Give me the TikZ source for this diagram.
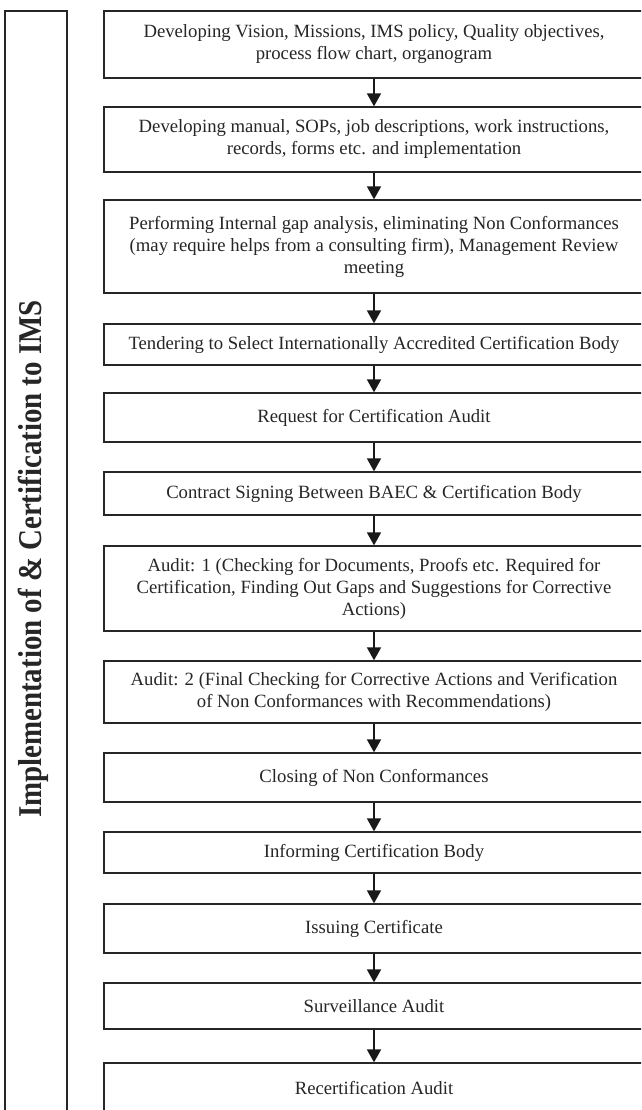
\documentclass[tikz,border=0pt]{standalone}
\usepackage{fontspec}
\usepackage{graphicx}
\setmainfont{Liberation Serif}
\usetikzlibrary{arrows.meta}
\begin{document}
\begin{tikzpicture}[x=1pt,y=1pt,
  stepbox/.style={draw=black!85, line width=1.3pt, minimum width=540pt, inner sep=0pt,
    align=center, font=\fontsize{18.7}{22}\selectfont, text=black!85},
  flow/.style={line width=1.8pt, draw=black!90, -{Triangle[width=14pt,length=13pt]}},
  sidebox/.style={draw=black!85, line width=1.3pt, inner sep=0pt},
  titletext/.style={rotate=90, inner sep=0pt, font=\fontsize{28.9}{32}\selectfont\bfseries, text=black!85}]
\useasboundingbox (0,0) rectangle (641,-1110);
\clip (0,0) rectangle (641,-1110);
\fill[white] (0,0) rectangle (641,-1110);

\node[sidebox, minimum width=62pt, minimum height=1104pt] (side) at (36,-563) {};
\node[titletext] (title) at (33,-559)
  {\scalebox{1}[1.15]{Implementation of \& Certification to IMS}};

\node[stepbox, minimum height=67pt] (b1) at (374,-44.5)
  {Developing Vision, Missions, IMS policy, Quality objectives,\\process flow chart, organogram};
\node[stepbox, minimum height=65pt] (b2) at (374,-139.5)
  {Developing manual, SOPs, job descriptions, work instructions,\\records, forms etc. and implementation};
\node[stepbox, minimum height=93pt] (b3) at (374,-246.5)
  {Performing Internal gap analysis, eliminating Non Conformances\\(may require helps from a consulting firm), Management Review\\meeting};
\node[stepbox, minimum height=41pt] (b4) at (374,-344.5)
  {Tendering to Select Internationally Accredited Certification Body};
\node[stepbox, minimum height=49pt] (b5) at (374,-417.5)
  {Request for Certification Audit};
\node[stepbox, minimum height=43pt] (b6) at (374,-493.5)
  {Contract Signing Between BAEC \& Certification Body};
\node[stepbox, minimum height=85pt] (b7) at (374,-588.5)
  {Audit: 1 (Checking for Documents, Proofs etc. Required for\\Certification, Finding Out Gaps and Suggestions for Corrective\\Actions)};
\node[stepbox, minimum height=62pt] (b8) at (374,-692)
  {Audit: 2 (Final Checking for Corrective Actions and Verification\\of Non Conformances with Recommendations)};
\node[stepbox, minimum height=49pt] (b9) at (374,-777.5)
  {Closing of Non Conformances};
\node[stepbox, minimum height=41pt] (b10) at (374,-852.5)
  {Informing Certification Body};
\node[stepbox, minimum height=49pt] (b11) at (374,-928.5)
  {Issuing Certificate};
\node[stepbox, minimum height=46pt] (b12) at (374,-1006)
  {Surveillance Audit};
\node[stepbox, minimum height=50pt] (b13) at (374,-1088)
  {Recertification Audit};

\foreach \a/\b in {b1/b2,b2/b3,b3/b4,b4/b5,b5/b6,b6/b7,b7/b8,b8/b9,b9/b10,b10/b11,b11/b12,b12/b13}
  \draw[flow] (\a.south) -- (\b.north);
\end{tikzpicture}
\end{document}
